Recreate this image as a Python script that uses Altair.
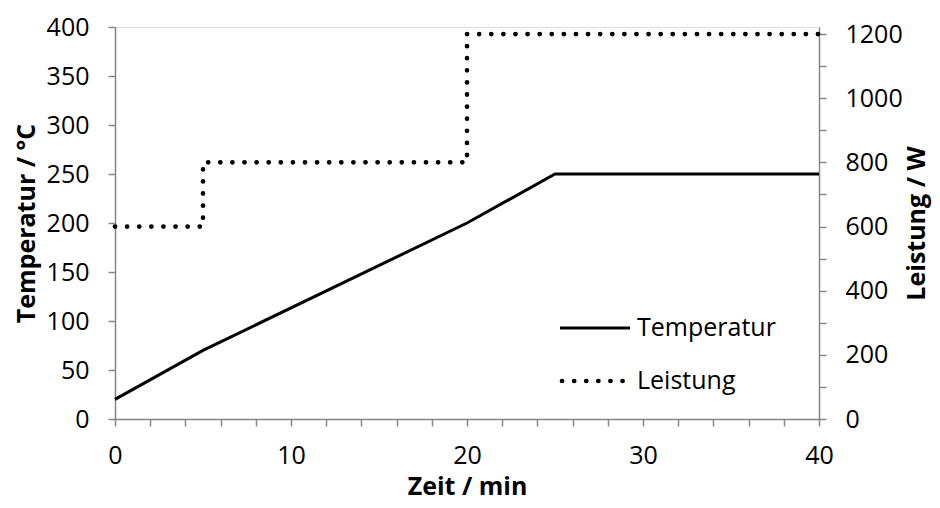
import altair as alt
import pandas as pd

# Data
temp_time = [0, 5, 20, 25, 40]
temp_values = [20, 70, 200, 250, 250]
power_time = [0, 5, 20, 40]
power_values = [600, 800, 1200, 1200]
series_names = ["Temperatur", "Leistung"]
x_ticks = list(range(0, 41, 2))
left_ticks = list(range(0, 401, 50))
right_ticks = list(range(0, 1201, 100))

FONT = "Open Sans"
AX = "#868686"
FS = 25
TFS = 25

temp_df = pd.DataFrame({"t": temp_time, "v": temp_values, "s": series_names[0]})
power_df = pd.DataFrame({"t": power_time, "v": power_values, "s": series_names[1]})

W, H = 704, 392

common = dict(grid=False, domainColor=AX, tickColor=AX, tickSize=7,
              domainWidth=1.5, tickWidth=1.5, labelOverlap=False, labelFlush=False,
              labelFontSize=FS, labelFont=FONT, labelColor="black",
              titleFontSize=TFS, titleFont=FONT, titleFontWeight="bold", titleColor="black",
              format="d")

x_axis = alt.Axis(values=x_ticks, title="Zeit / min",
                  labelExpr="datum.value % 10 == 0 ? datum.label : ''",
                  labelPadding=17, titlePadding=6, **common)
x_scale = alt.Scale(domain=[0, 40], nice=False)

temp = alt.Chart(temp_df).mark_line(color="black", strokeWidth=3).encode(
    x=alt.X("t:Q", scale=x_scale, axis=x_axis),
    y=alt.Y("v:Q", scale=alt.Scale(domain=[0, 400], nice=False),
            axis=alt.Axis(values=left_ticks, title="Temperatur / °C", orient="left",
                          labelPadding=19, titlePadding=7, **common)),
)

power = alt.Chart(power_df).mark_line(color="black", strokeWidth=4.7, strokeDash=[0.1, 12],
                                      strokeCap="round", interpolate="step-after").encode(
    x=alt.X("t:Q", scale=x_scale, axis=x_axis),
    y=alt.Y("v:Q", scale=alt.Scale(domain=[0, 1222], nice=False),
            axis=alt.Axis(values=right_ticks, title="Leistung / W", orient="right",
                          labelExpr="datum.value % 200 == 0 ? datum.label : ''",
                          labelPadding=19, titlePadding=27, titleAngle=270,
                          titleBaseline="bottom", **common)),
)

leg_df = pd.DataFrame({"s": series_names})
leg_solid = alt.Chart(leg_df).transform_filter(alt.datum.s == series_names[0]).mark_rule(
    color="black", strokeWidth=3).encode(
    x=alt.value(445), x2=alt.value(515), y=alt.value(301))
leg_dot = alt.Chart(leg_df).transform_filter(alt.datum.s == series_names[1]).mark_rule(
    color="black", strokeWidth=4.7, strokeDash=[0.1, 12], strokeCap="round").encode(
    x=alt.value(447), x2=alt.value(510), y=alt.value(354))
leg_text1 = alt.Chart(leg_df).transform_filter(alt.datum.s == series_names[0]).mark_text(
    align="left", baseline="middle", fontSize=FS, font=FONT, color="black").encode(
    x=alt.value(522), y=alt.value(301), text="s:N")
leg_text2 = alt.Chart(leg_df).transform_filter(alt.datum.s == series_names[1]).mark_text(
    align="left", baseline="middle", fontSize=FS, font=FONT, color="black").encode(
    x=alt.value(522), y=alt.value(354), text="s:N")

chart = alt.layer(temp, power, leg_solid, leg_dot, leg_text1, leg_text2).resolve_scale(
    y="independent"
).properties(
    width=W, height=H,
    autosize=alt.AutoSizeParams(type="none"),
    padding={"left": 107, "top": 19, "right": 113, "bottom": 81},
).configure_view(stroke=None).configure_axis(labelOverlap=False).configure(background="white")

chart.save("out.html", embed_options={"renderer": "svg", "actions": False})
